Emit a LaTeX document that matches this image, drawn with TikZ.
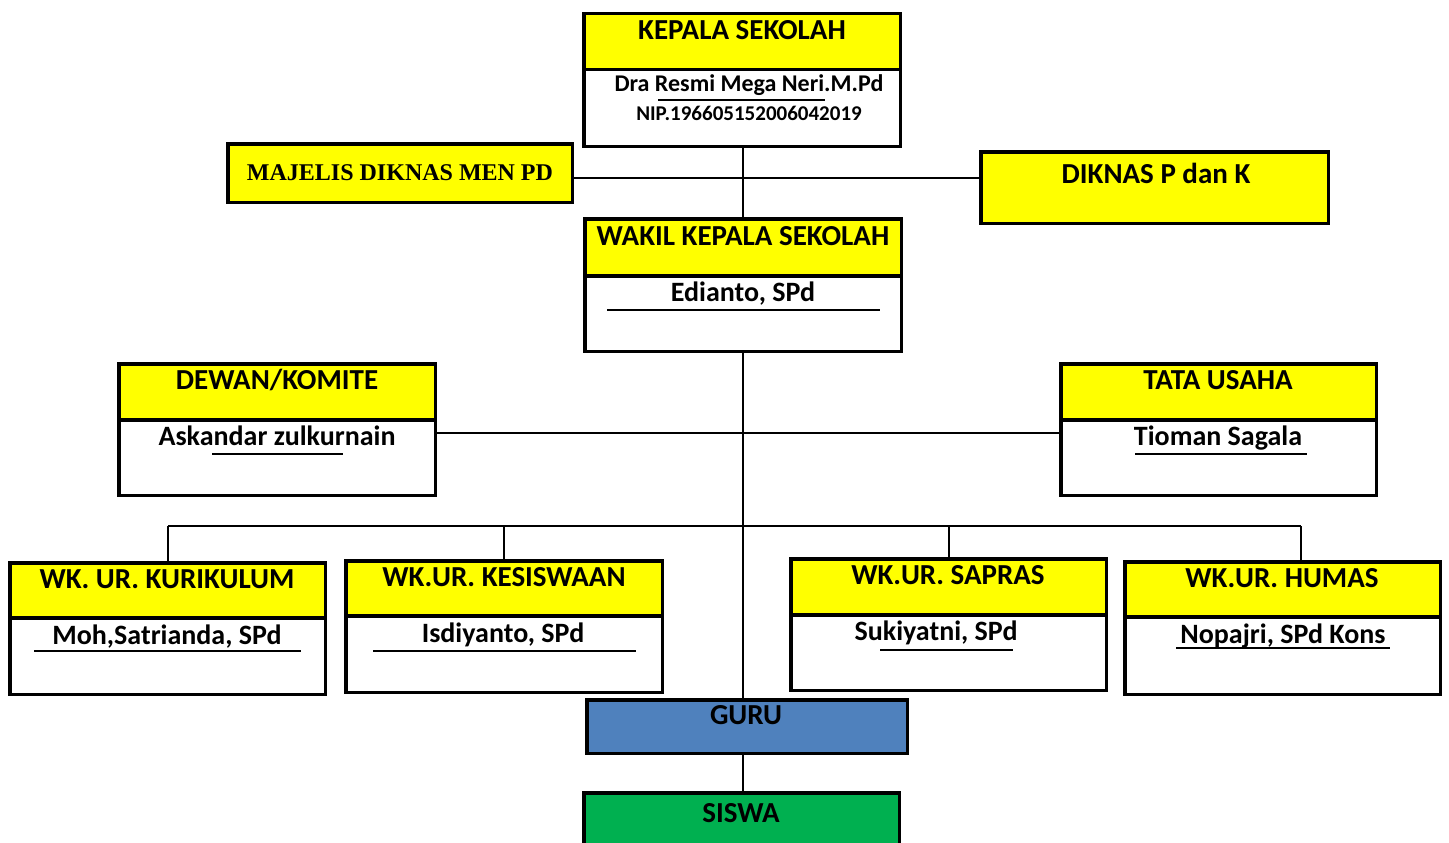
\documentclass[tikz,border=0pt]{standalone}
\usepackage{fontspec}
\setmainfont{Carlito}
\newfontfamily\timesf{Liberation Serif}
\usetikzlibrary{calc}
\definecolor{hdrY}{HTML}{FFFF00}
\definecolor{guruB}{HTML}{4F81BD}
\definecolor{siswaG}{HTML}{00B050}
\begin{document}
\begin{tikzpicture}[x=1pt,y=-1pt,
  frame/.style={draw=black, line width=3.5pt, fill=white, inner sep=0pt, outer sep=0pt, anchor=north west, rectangle, xshift=1.75pt, yshift=-1.75pt},
  hdr/.style={frame, fill=hdrY},
  ttl/.style={anchor=base, font=\fontsize{29}{30}\selectfont\bfseries, inner sep=0pt},
  nm/.style={anchor=base, font=\fontsize{28}{30}\selectfont\bfseries, inner sep=0pt},
  ul/.style={line width=2pt},
  conn/.style={line width=2pt}]
\useasboundingbox (0,0) rectangle (1449,843);
\fill[white] (0,0) rectangle (1449,843);

\coordinate (spine) at (743,0);
\coordinate (j1) at (742,178);
\coordinate (j2) at (743,433);
\coordinate (barL) at (168,526);
\coordinate (barR) at (1301,526);
\coordinate (humTop) at (1301,560);

% KEPALA SEKOLAH
\node[frame, minimum width=316.5pt, minimum height=132.5pt] (kep) at (582,12) {};
\node[hdr, minimum width=316.5pt, minimum height=56pt] (kepH) at (582,12) {};
\node[ttl] (kepT) at (742,40) {KEPALA SEKOLAH};
\node[nm, font=\fontsize{24}{26}\selectfont\bfseries] (kepN) at (749,92) {Dra Resmi Mega Neri.M.Pd};
\node[nm, font=\fontsize{21}{23}\selectfont\bfseries] (kepNip) at (749,120) {NIP.196605152006042019};
\draw[ul] (658,100) -- (825,100);

% MAJELIS
\node[hdr, minimum width=344.5pt, minimum height=58.5pt] (maj) at (226,142) {};
\node[anchor=base, inner sep=0pt, font=\timesf\fontsize{24}{26}\selectfont\bfseries] (majT) at (400,180) {MAJELIS DIKNAS MEN PD};

% DIKNAS
\node[hdr, minimum width=347.5pt, minimum height=71.5pt] (dik) at (979,150) {};
\node[ttl] (dikT) at (1156,183) {DIKNAS P dan K};

% WAKIL
\node[frame, minimum width=316.5pt, minimum height=132.5pt] (wak) at (583,217) {};
\node[hdr, minimum width=316.5pt, minimum height=57pt] (wakH) at (583,217) {};
\node[ttl] (wakT) at (743,245) {WAKIL KEPALA SEKOLAH};
\node[nm] (wakN) at (743,301) {Edianto, SPd};
\draw[ul] (607,310) -- (880,310);

% DEWAN
\node[frame, minimum width=316.5pt, minimum height=131.5pt] (dew) at (117,362) {};
\node[hdr, minimum width=316.5pt, minimum height=56pt] (dewH) at (117,362) {};
\node[ttl] (dewT) at (277,389) {DEWAN/KOMITE};
\node[nm] (dewN) at (277,445) {Askandar zulkurnain};
\draw[ul] (212,454) -- (343,454);

% TATA USAHA
\node[frame, minimum width=315.5pt, minimum height=131.5pt] (tat) at (1059,362) {};
\node[hdr, minimum width=315.5pt, minimum height=56pt] (tatH) at (1059,362) {};
\node[ttl] (tatT) at (1218,389) {TATA USAHA};
\node[nm] (tatN) at (1218,445) {Tioman Sagala};
\draw[ul] (1135,454) -- (1307,454);

% KURIKULUM
\node[frame, minimum width=315.5pt, minimum height=131.5pt] (kur) at (8,561) {};
\node[hdr, minimum width=315.5pt, minimum height=55pt] (kurH) at (8,561) {};
\node[ttl] (kurT) at (167,588) {WK. UR. KURIKULUM};
\node[nm] (kurN) at (167,644) {Moh,Satrianda, SPd};
\draw[ul] (34,651) -- (301,651);

% KESISWAAN
\node[frame, minimum width=316.5pt, minimum height=131.5pt] (kes) at (344,559) {};
\node[hdr, minimum width=316.5pt, minimum height=55pt] (kesH) at (344,559) {};
\node[ttl] (kesT) at (504,586) {WK.UR. KESISWAAN};
\node[nm] (kesN) at (503,642) {Isdiyanto, SPd};
\draw[ul] (373,651) -- (636,651);

% SAPRAS
\node[frame, minimum width=315.5pt, minimum height=131.5pt] (sap) at (789,557) {};
\node[hdr, minimum width=315.5pt, minimum height=56pt] (sapH) at (789,557) {};
\node[ttl] (sapT) at (948,584) {WK.UR. SAPRAS};
\node[nm] (sapN) at (936,640) {Sukiyatni, SPd};
\draw[ul] (880,650) -- (1013,650);

% HUMAS
\node[frame, minimum width=315.5pt, minimum height=132.5pt] (hum) at (1123,560) {};
\node[hdr, minimum width=315.5pt, minimum height=55pt] (humH) at (1123,560) {};
\node[ttl] (humT) at (1282,587) {WK.UR. HUMAS};
\node[nm] (humN) at (1283,643) {Nopajri, SPd Kons};
\draw[ul] (1176,648) -- (1390,648);

% GURU
\node[frame, fill=guruB, minimum width=320.5pt, minimum height=53.5pt] (guru) at (585,698) {};
\node[ttl] (guruT) at (746,724) {GURU};

% SISWA
\node[frame, fill=siswaG, minimum width=315.5pt, minimum height=90pt] (sis) at (582,791) {};
\node[ttl] (sisT) at (741,822) {SISWA};

% connectors
\draw[conn] (kep.south -| spine) -- (wakH.north -| spine);
\draw[conn] (maj.east |- j1) -- (dik.west |- j1);
\draw[conn] (dew.east |- j2) -- (tat.west |- j2);
\draw[conn] (wak.south -| spine) -- (guru.north -| spine);
\draw[conn] (barL) -- (barR);
\draw[conn] (barL) -- (kurH.north -| barL);
\draw[conn] (kesH.north |- barL) -- (kesH.north);
\draw[conn] (sapH.north |- barL) -- (sapH.north);
\draw[conn] (barR) -- (humTop);
\draw[conn] (guru.south -| spine) -- (sis.north -| spine);
\end{tikzpicture}
\end{document}
